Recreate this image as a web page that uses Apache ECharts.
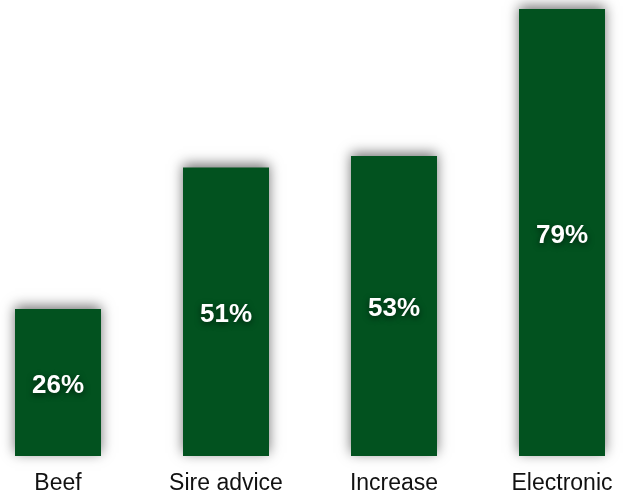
<!DOCTYPE html>
<html><head><meta charset="utf-8">
<script src="https://cdn.jsdelivr.net/npm/echarts@6/dist/echarts.min.js"></script>
<style>html,body{margin:0;padding:0;background:#fff}#c{width:627px;height:492px}</style>
</head><body><div id="c"></div>
<script>
const categories = ['Beef', 'Sire advice', 'Increase', 'Electronic'];
const values = [26, 51, 53, 79];
const chart = echarts.init(document.getElementById('c'));
chart.setOption({
  animation: false,
  grid: { left: 58, right: 65, top: 9, bottom: 36, containLabel: false, outerBoundsMode: 'none' },
  xAxis: {
    type: 'category', data: categories, boundaryGap: false,
    axisLine: { show: false }, axisTick: { show: false },
    axisLabel: { color: '#111', fontSize: 23, fontFamily: 'Liberation Sans, Arial, sans-serif', margin: 16 }
  },
  yAxis: { type: 'value', min: 0, max: 79, show: false, splitLine: { show: false } },
  series: [{
    type: 'bar', data: values, barWidth: 86, clip: false,
    itemStyle: { color: '#02521f', shadowColor: 'rgba(0,0,0,0.55)', shadowBlur: 12, shadowOffsetY: -3 },
    label: {
      show: true, position: 'inside', formatter: '{c}%', color: '#fff', offset: [0, 3],
      fontSize: 26, fontWeight: 'bold', fontFamily: 'Liberation Sans, Arial, sans-serif',
      textShadowColor: 'rgba(0,0,0,0.6)', textShadowBlur: 6, textShadowOffsetY: 2
    }
  }]
});
</script></body></html>
